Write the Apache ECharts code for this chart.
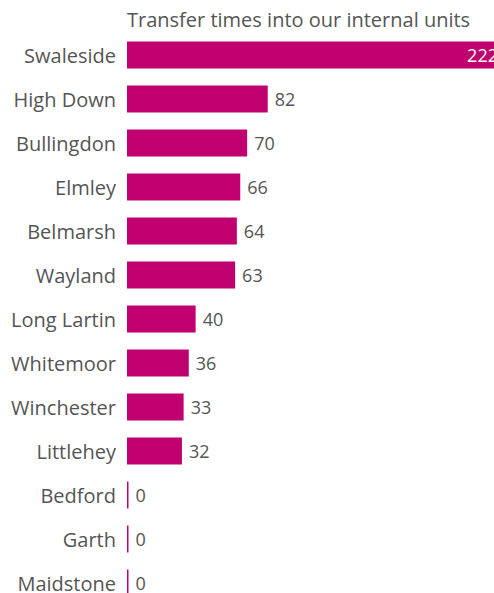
<!DOCTYPE html>
<html>
<head>
<meta charset="utf-8">
<script src="https://cdn.jsdelivr.net/npm/echarts@6/dist/echarts.min.js"></script>
<style>
  html, body { margin: 0; padding: 0; background: #fff; }
  #chart { width: 494px; height: 593px; }
</style>
</head>
<body>
<div id="chart"></div>
<script>
const units = ["Swaleside", "High Down", "Bullingdon", "Elmley", "Belmarsh", "Wayland",
  "Long Lartin", "Whitemoor", "Winchester", "Littlehey", "Bedford", "Garth", "Maidstone"];
const transfers = [222, 82, 70, 66, 64, 63, 40, 36, 33, 32, 0, 0, 0];

const magenta = "#c0006f";
const grey = "#555555";
const font = "Open Sans";

const chart = echarts.init(document.getElementById("chart"), null, { renderer: "svg" });

chart.setOption({
  animation: false,
  title: {
    text: "Transfer times into our internal units",
    left: 122,
    top: 4,
    textStyle: { fontFamily: font, fontSize: 20, fontWeight: "normal", color: grey },
  },
  // plot runs past the right and bottom edges, as in the source image
  grid: { left: 127, top: 33, width: 381, height: 572, outerBoundsMode: "none" },
  xAxis: {
    type: "value",
    min: 0,
    max: 222,
    show: false,
  },
  yAxis: {
    type: "category",
    data: units,
    inverse: true,
    axisLine: { show: false },
    axisTick: { show: false },
    axisLabel: { fontFamily: font, fontSize: 20, color: grey, margin: 11 },
  },
  series: [{
    type: "bar",
    data: transfers.map((v, i) => ({
      value: v,
      label: i === 0
        ? { position: "insideRight", color: "#fff", distance: 10 }
        : undefined,
    })),
    barWidth: 27,
    barMinHeight: 1.5,
    itemStyle: { color: magenta },
    label: {
      show: true,
      position: "right",
      distance: 7,
      fontFamily: font,
      fontSize: 18,
      color: grey,
    },
  }],
});
</script>
</body>
</html>
